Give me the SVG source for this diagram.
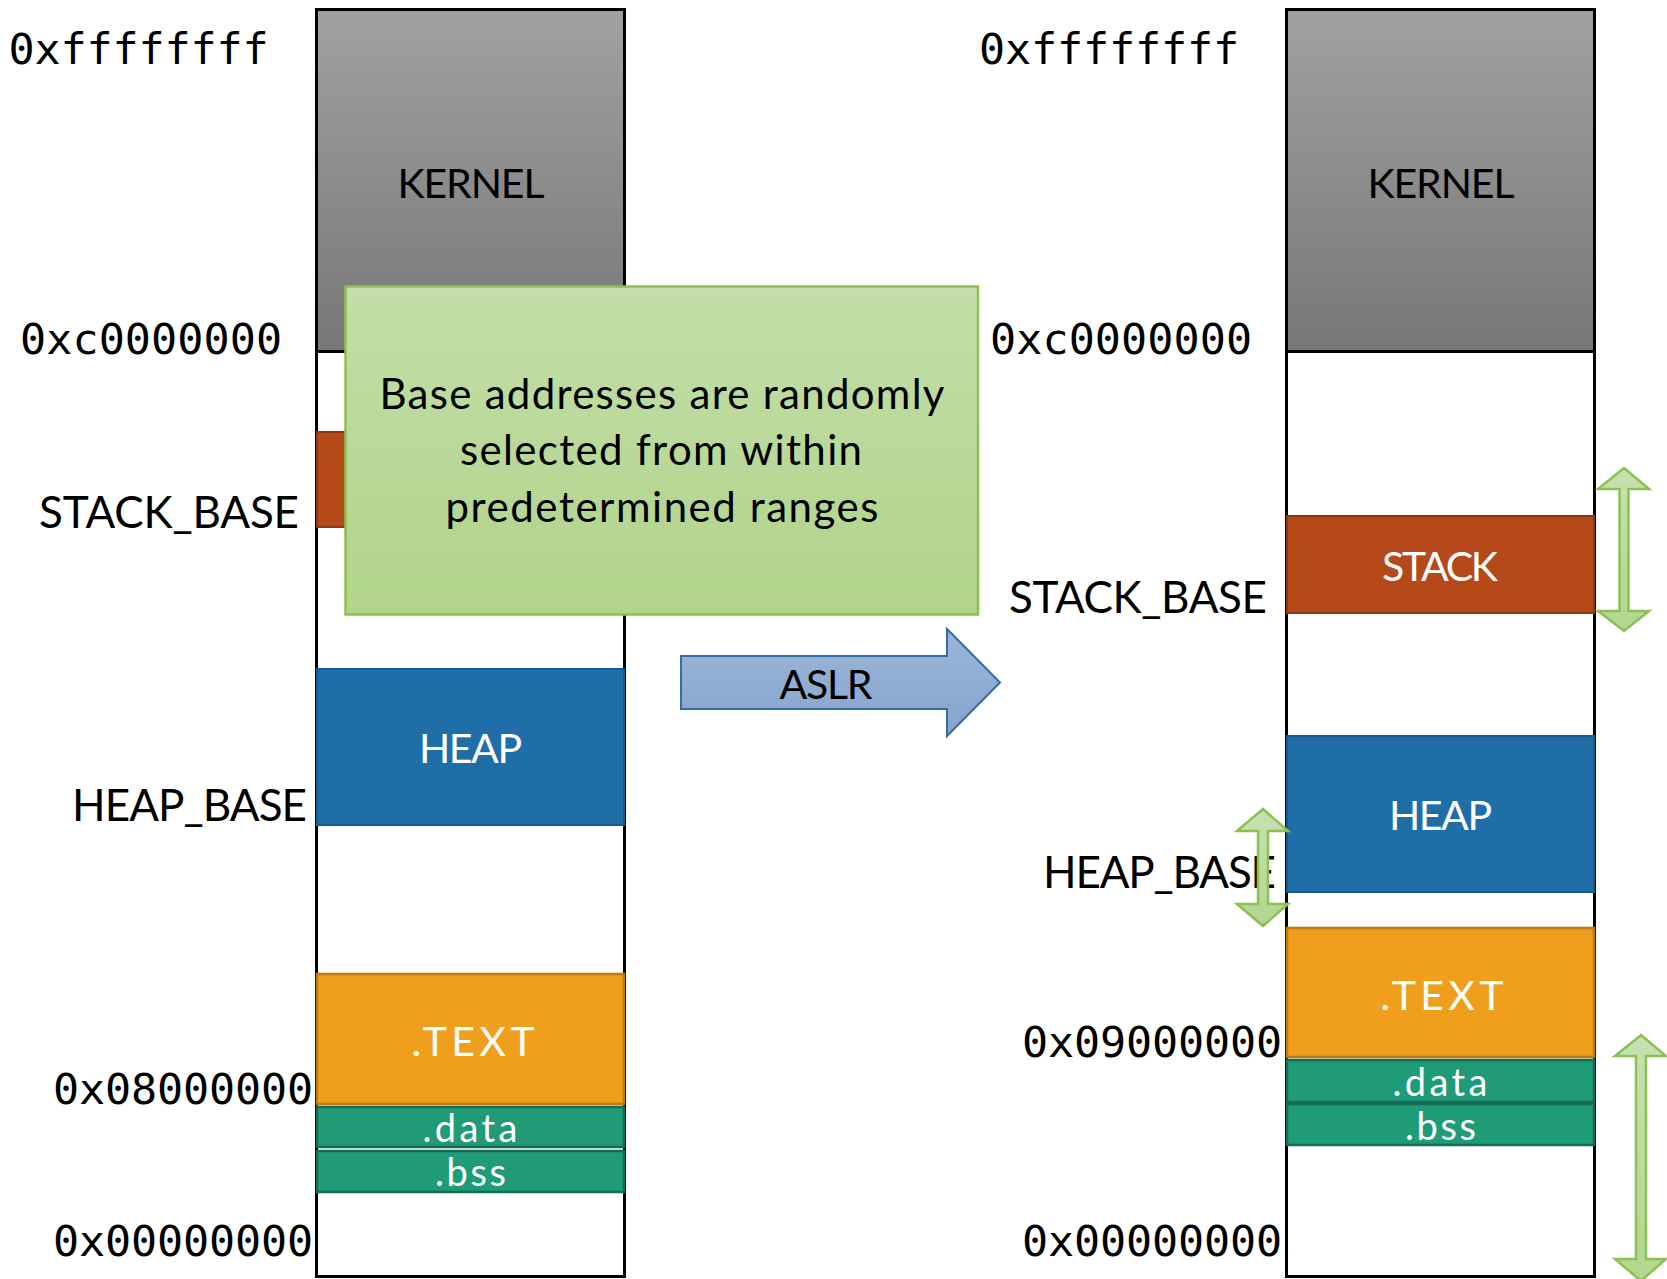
<svg xmlns="http://www.w3.org/2000/svg" width="1667" height="1279" viewBox="0 0 1667 1279">
  <defs>
    <linearGradient id="kernelFill" x1="0" y1="0" x2="0" y2="1">
      <stop offset="0" stop-color="#a1a1a1"/>
      <stop offset="1" stop-color="#777777"/>
    </linearGradient>
    <linearGradient id="noteFill" x1="0" y1="0" x2="0" y2="1">
      <stop offset="0" stop-color="#c3dea9"/>
      <stop offset="1" stop-color="#b0d489"/>
    </linearGradient>
    <linearGradient id="aslrFill" x1="0" y1="0" x2="0" y2="1">
      <stop offset="0" stop-color="#9cb6d8"/>
      <stop offset="1" stop-color="#85a4cb"/>
    </linearGradient>
    <linearGradient id="rangeFill" x1="0" y1="0" x2="0" y2="1">
      <stop offset="0" stop-color="#c6e1b1"/>
      <stop offset="1" stop-color="#b2d68e"/>
    </linearGradient>
  </defs>
  <style>
    .col { fill: #ffffff; stroke: #000000; stroke-width: 3; }
    .kernel { fill: url(#kernelFill); stroke: #000000; stroke-width: 3; }
    .stack { fill: #b5491a; stroke: #8a3713; stroke-width: 2; }
    .heap { fill: #1f6ea8; stroke: #195a8a; stroke-width: 2; }
    .text { fill: #f09f1d; stroke: #bf7a12; stroke-width: 2.5; }
    .seg { fill: #1f9b78; stroke: #176a53; stroke-width: 2.5; }
    .addr { font-family: "DejaVu Sans Mono", "Liberation Mono", monospace; font-size: 43.4px; fill: #000000; }
    .lbl { font-family: Lato, "Open Sans", sans-serif; font-size: 44px; fill: #000000; }
    .blk { font-family: Lato, "Open Sans", sans-serif; font-size: 41px; text-anchor: middle; }
    .small { font-size: 38px; }
    .white { fill: #ffffff; }
    .black { fill: #000000; }
    .note { fill: url(#noteFill); stroke: #8cc152; stroke-width: 2.5; }
    .noteText { font-family: Lato, "Open Sans", sans-serif; font-size: 42px; fill: #000000; text-anchor: middle; }
    .aslr { fill: url(#aslrFill); stroke: #2f6ea6; stroke-width: 2; }
    .range { fill: url(#rangeFill); stroke: #8cc152; stroke-width: 2.5; stroke-linejoin: miter; }
  </style>

  <!-- left address space -->
  <g id="left-space">
    <rect class="col" x="316.5" y="9.5" width="308" height="1267"/>
  </g>
  <g id="left-kernel">
    <rect class="kernel" x="316.5" y="9.5" width="308" height="342"/>
    <text class="blk black" x="471" y="198" textLength="147">KERNEL</text>
  </g>
  <g id="left-stack">
    <rect class="stack" x="317" y="432" width="307" height="95"/>
  </g>
  <g id="left-heap">
    <rect class="heap" x="317" y="669" width="307" height="156"/>
    <text class="blk white" x="470.5" y="763" textLength="103">HEAP</text>
  </g>
  <g id="left-text">
    <rect class="text" x="317" y="974" width="307" height="130"/>
    <text class="blk white" x="473" y="1056" textLength="123">.TEXT</text>
  </g>
  <g id="left-data">
    <rect class="seg" x="317" y="1107" width="307" height="40"/>
    <text class="blk small white" x="470" y="1142" textLength="95">.data</text>
  </g>
  <g id="left-bss">
    <rect class="seg" x="317" y="1151" width="307" height="41"/>
    <text class="blk small white" x="470.5" y="1186" textLength="71">.bss</text>
  </g>

  <!-- left labels -->
  <g id="left-labels">
    <text class="addr" x="8.5" y="64" textLength="260">0xffffffff</text>
    <text class="addr" x="20" y="354" textLength="262">0xc0000000</text>
    <text class="lbl" x="39" y="528" textLength="260">STACK_BASE</text>
    <text class="lbl" x="72" y="821" textLength="235">HEAP_BASE</text>
    <text class="addr" x="53" y="1104" textLength="260">0x08000000</text>
    <text class="addr" x="53" y="1256" textLength="260">0x00000000</text>
  </g>

  <!-- right address space -->
  <g id="right-space">
    <rect class="col" x="1286.5" y="9.5" width="308" height="1267"/>
  </g>
  <g id="right-kernel">
    <rect class="kernel" x="1286.5" y="9.5" width="308" height="342"/>
    <text class="blk black" x="1441" y="198" textLength="147">KERNEL</text>
  </g>
  <g id="right-stack">
    <rect class="stack" x="1287" y="516" width="307" height="97"/>
    <text class="blk white" x="1440" y="581" textLength="116">STACK</text>
  </g>
  <g id="right-heap">
    <rect class="heap" x="1287" y="736" width="307" height="156"/>
    <text class="blk white" x="1440.5" y="830" textLength="103">HEAP</text>
  </g>
  <g id="right-text">
    <rect class="text" x="1287" y="928" width="307" height="129"/>
    <text class="blk white" x="1442" y="1010" textLength="123">.TEXT</text>
  </g>
  <g id="right-data">
    <rect class="seg" x="1287" y="1060" width="307" height="42"/>
    <text class="blk small white" x="1440" y="1096" textLength="95">.data</text>
  </g>
  <g id="right-bss">
    <rect class="seg" x="1287" y="1104" width="307" height="41"/>
    <text class="blk small white" x="1440.5" y="1140" textLength="71">.bss</text>
  </g>

  <!-- right labels -->
  <g id="right-labels">
    <text class="addr" x="979" y="64" textLength="260">0xffffffff</text>
    <text class="addr" x="990" y="354" textLength="262">0xc0000000</text>
    <text class="lbl" x="1009" y="613" textLength="258">STACK_BASE</text>
    <text class="lbl" x="1043" y="888" textLength="233">HEAP_BASE</text>
    <text class="addr" x="1022" y="1057" textLength="260">0x09000000</text>
    <text class="addr" x="1022" y="1256" textLength="260">0x00000000</text>
  </g>

  <!-- explanatory note -->
  <g id="note">
    <rect class="note" x="345.5" y="286.5" width="632.5" height="328"/>
    <text class="noteText" x="662" y="409" textLength="565">Base addresses are randomly</text>
    <text class="noteText" x="661" y="465" textLength="402">selected from within</text>
    <text class="noteText" x="662" y="522" textLength="433">predetermined ranges</text>
  </g>

  <!-- connectors -->
  <g id="connectors">
    <g id="aslr-arrow">
      <path class="aslr" d="M681,656 H947 V629 L1000,682.5 L947,736 V709 H681 Z"/>
      <text class="blk black" x="826" y="699" textLength="93">ASLR</text>
    </g>
    <!-- stack range -->
    <path class="range" d="M1624,468 L1649,489 H1628.5 V611 H1649 L1624,631 L1598,611 H1619.5 V489 H1598 Z"/>
    <!-- heap range -->
    <path class="range" d="M1263,809 L1288,831 H1268 V904 H1288 L1263,926 L1237,904 H1258 V831 H1237 Z"/>
    <!-- text/data/bss range -->
    <path class="range" d="M1641,1035 L1666,1056 H1646 V1259 H1666 L1641,1281 L1615,1259 H1636 V1056 H1615 Z"/>
  </g>
</svg>
